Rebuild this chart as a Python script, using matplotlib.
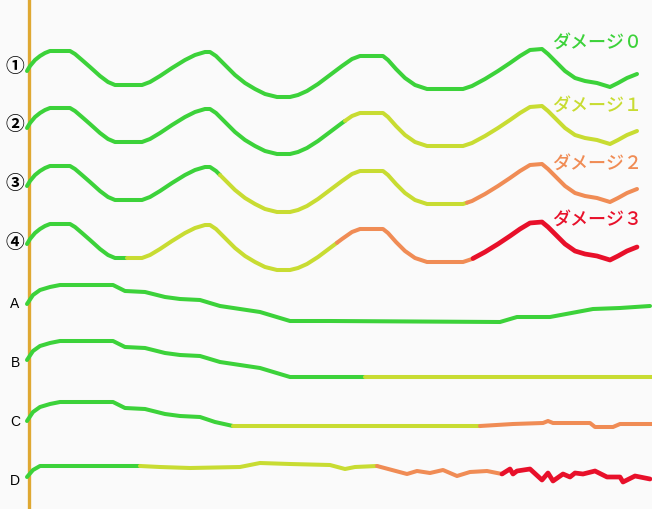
import numpy as np
import matplotlib
matplotlib.use('Agg')
import matplotlib.pyplot as plt

# Colours used for damage stages
GREEN = '#3cd23a'
YELLOW = '#c8dc32'
ORANGE = '#f08c55'
RED = '#e8102a'
AXIS = '#dfa832'

# Wave shape (pixel coords) shared by curves 1-4
wave_x = [27, 30, 35, 40, 45, 50, 70, 75, 82, 90, 100, 108, 115, 142, 150,
          160, 172, 185, 195, 205, 210, 216, 225, 235, 245, 255, 265, 277,
          290, 298, 307, 318, 330, 342, 352, 360, 383, 388, 396, 405, 415,
          427, 463, 472, 485, 498, 510, 520, 530, 542, 548, 556, 565, 575,
          585, 597, 610, 618, 627, 637]
wave_y = [72, 67, 61, 57, 54, 52, 52, 55, 61, 68, 77, 83, 86, 86, 83,
          77, 69, 61, 56, 53, 53, 57, 66, 76, 84, 90, 95, 98,
          98, 96, 92, 85, 76, 67, 60, 57, 57, 61, 70, 79, 86,
          90, 90, 87, 80, 72, 64, 57, 51, 50, 55, 63, 72, 79,
          82, 84, 88, 84, 79, 75]
wave_offsets = [0, 57, 115, 173]
wave_labels = ['①', '②', '③', '④']
# colour change points along x for each wave
wave_breaks = [[27, 637],
               [27, 345, 637],
               [27, 220, 467, 637],
               [27, 127, 337, 473, 637]]
wave_colors = [[GREEN],
               [GREEN, YELLOW],
               [GREEN, YELLOW, ORANGE],
               [GREEN, YELLOW, ORANGE, RED]]

damage_labels = ['ダメージ０', 'ダメージ１', 'ダメージ２', 'ダメージ３']
damage_colors = [GREEN, YELLOW, ORANGE, RED]
damage_y = [43, 106, 164, 220]

# Long-term curves A-D
a_x = [27, 33, 40, 50, 60, 113, 125, 145, 165, 180, 200, 220, 240, 260, 290,
       330, 500, 517, 550, 593, 620, 650]
a_y = [305, 296, 291, 288, 286, 286, 292, 293, 298, 300, 301, 307, 310, 313,
       322, 322, 323, 318, 318, 310, 309, 307]
b_x = [27, 33, 40, 50, 60, 113, 125, 145, 165, 180, 200, 220, 240, 260, 290,
       365, 652]
b_y = [361, 352, 347, 344, 342, 342, 348, 349, 354, 356, 357, 363, 366, 369,
       378, 378, 378]
c_x = [27, 33, 40, 50, 60, 113, 125, 145, 165, 180, 200, 215, 233, 480, 513,
       543, 548, 553, 590, 595, 613, 620, 652]
c_y = [422, 413, 408, 405, 403, 403, 409, 410, 415, 417, 418, 423, 427, 427,
       425, 424, 422, 424, 424, 428, 428, 425, 425]
d_x = [27, 33, 40, 140, 160, 190, 240, 260, 290, 330, 345, 355, 377, 407,
       417, 430, 443, 457, 470, 487, 502, 510, 513, 517, 530, 542, 548, 553,
       563, 570, 575, 583, 595, 607, 620, 623, 635, 650]
d_y = [478, 471, 467, 467, 468, 469, 468, 464, 465, 466, 470, 468, 467, 475,
       472, 474, 471, 477, 473, 472, 475, 470, 475, 472, 470, 481, 474, 482,
       475, 478, 474, 475, 472, 478, 478, 483, 477, 480]
flat_labels = ['A', 'B', 'C', 'D']
flat_breaks = [[27, 650],
               [27, 365, 652],
               [27, 233, 480, 652],
               [27, 140, 377, 502, 650]]
flat_colors = [[GREEN],
               [GREEN, YELLOW],
               [GREEN, YELLOW, ORANGE],
               [GREEN, YELLOW, ORANGE, RED]]

label_y_wave = [66, 125, 184, 243]
label_y_flat = [304, 363, 422, 481]


def draw_segments(ax, xs, ys, breaks, colors):
    xs = np.asarray(xs, dtype=float)
    ys = np.asarray(ys, dtype=float)
    for (x0, x1), c in zip(zip(breaks[:-1], breaks[1:]), colors):
        m = (xs > x0) & (xs < x1)
        sx = np.concatenate([[x0], xs[m], [x1]])
        sy = np.concatenate([[np.interp(x0, xs, ys)], ys[m],
                             [np.interp(x1, xs, ys)]])
        lw = 3.4 if c == RED else 2.9
        ax.plot(sx, sy, color=c, lw=lw, solid_capstyle='round',
                solid_joinstyle='round')


fig = plt.figure(figsize=(6.52, 5.10), dpi=100, facecolor='#fafafa')
ax = fig.add_axes([0, 0, 1, 1])
ax.set_facecolor('#fafafa')
ax.set_xlim(0, 652)
ax.set_ylim(510, 0)
ax.axis('off')

ax.axvline(28.5, color=AXIS, lw=2.4)

for off, lab, ly, br, cols in zip(wave_offsets, wave_labels, label_y_wave,
                                   wave_breaks, wave_colors):
    draw_segments(ax, wave_x, [y + off for y in wave_y], br, cols)
    ax.text(15, ly, lab, ha='center', va='center', fontsize=13.5,
            fontweight='bold', family=['Noto Sans CJK JP', 'DejaVu Sans'])

for xs, ys, lab, ly, br, cols in zip([a_x, b_x, c_x, d_x],
                                     [a_y, b_y, c_y, d_y], flat_labels,
                                     label_y_flat, flat_breaks, flat_colors):
    draw_segments(ax, xs, ys, br, cols)
    ax.text(15, ly, lab, ha='center', va='center', fontsize=10,
            family='Liberation Sans')

for txt, c, y in zip(damage_labels, damage_colors, damage_y):
    ax.text(597, y, txt, ha='center', va='center', fontsize=13,
            color=c, fontweight='medium',
            family=['Noto Sans CJK JP', 'DejaVu Sans'])

fig.savefig('out.png', dpi=100, facecolor=fig.get_facecolor())
